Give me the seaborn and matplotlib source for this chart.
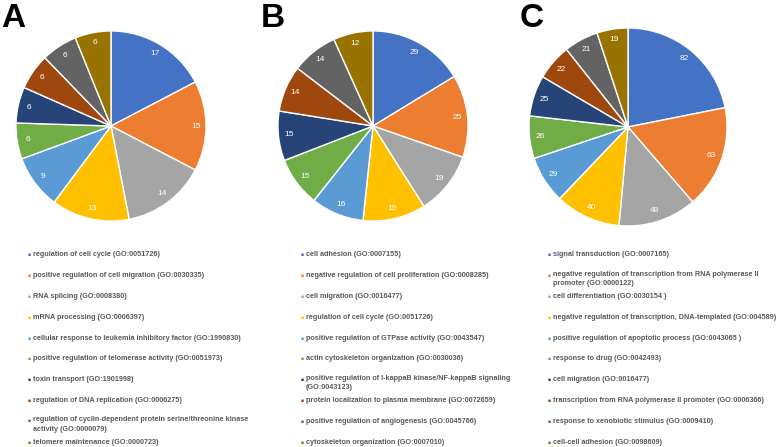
import matplotlib
matplotlib.use("Agg")
import matplotlib.pyplot as plt
import seaborn as sns

sns.set_theme(style="white")
plt.rcParams['font.family'] = ['Liberation Sans', 'DejaVu Sans']

# Office-style colours, one per GO term rank
office_colors = ["#4472C4", "#ED7D31", "#A5A5A5", "#FFC000", "#5B9BD5",
                 "#70AD47", "#264478", "#9E480E", "#636363", "#997300"]
palette = sns.color_palette(office_colors)

counts_a = [17, 15, 14, 13, 9, 6, 6, 6, 6, 6]
terms_a = [
    "regulation of cell cycle (GO:0051726)",
    "positive regulation of cell migration (GO:0030335)",
    "RNA splicing (GO:0008380)",
    "mRNA processing (GO:0006397)",
    "cellular response to leukemia inhibitory factor (GO:1990830)",
    "positive regulation of telomerase activity (GO:0051973)",
    "toxin transport (GO:1901998)",
    "regulation of DNA replication (GO:0006275)",
    "regulation of cyclin-dependent protein serine/threonine kinase\nactivity (GO:0000079)",
    "telomere maintenance (GO:0000723)",
]

counts_b = [29, 25, 19, 19, 16, 15, 15, 14, 14, 12]
terms_b = [
    "cell adhesion (GO:0007155)",
    "negative regulation of cell proliferation (GO:0008285)",
    "cell migration (GO:0016477)",
    "regulation of cell cycle (GO:0051726)",
    "positive regulation of GTPase activity (GO:0043547)",
    "actin cytoskeleton organization (GO:0030036)",
    "positive regulation of I-kappaB kinase/NF-kappaB signaling\n(GO:0043123)",
    "protein localization to plasma membrane (GO:0072659)",
    "positive regulation of angiogenesis (GO:0045766)",
    "cytoskeleton organization (GO:0007010)",
]

counts_c = [82, 63, 48, 40, 29, 26, 25, 22, 21, 19]
terms_c = [
    "signal transduction (GO:0007165)",
    "negative regulation of transcription from RNA polymerase II\npromoter (GO:0000122)",
    "cell differentiation (GO:0030154 )",
    "negative regulation of transcription, DNA-templated (GO:004589)",
    "positive regulation of apoptotic process (GO:0043065 )",
    "response to drug (GO:0042493)",
    "cell migration (GO:0016477)",
    "transcription from RNA polymerase II promoter (GO:0006366)",
    "response to xenobiotic stimulus (GO:0009410)",
    "cell-cell adhesion (GO:0098609)",
]

W, H = 777, 447
fig = plt.figure(figsize=(W / 100, H / 100), dpi=100)

# (letter, counts, terms, pie centre x, centre y, radius, legend text x, letter x)
panels = [
    ("A", counts_a, terms_a, 111, 126, 96, 33, 1),
    ("B", counts_b, terms_b, 373, 126, 96, 306, 261),
    ("C", counts_c, terms_c, 628, 127, 100, 553, 520),
]

legend_font = dict(fontsize=5.2, color="#595959", fontweight="bold", ha="left")

for letter, counts, terms, cx, cy, r, tx, lx in panels:
    ax = fig.add_axes([(cx - r) / W, (H - cy - r) / H, 2 * r / W, 2 * r / H])
    wedges, _, autotexts = ax.pie(
        counts, colors=palette, startangle=90, counterclock=False,
        autopct="", pctdistance=0.89,
        wedgeprops=dict(edgecolor="white", linewidth=1.0))
    for t, v in zip(autotexts, counts):
        t.set_text(str(v))
        t.set_color("white")
        t.set_fontsize(6)
    ax.set_xlim(-1.01, 1.01)
    ax.set_ylim(-1.01, 1.01)
    ax.axis("off")

    fig.text(lx / W, 1 - 3 / H, letter, fontsize=24, fontweight="bold",
             va="top", ha="left", color="black")

    # legend rows below the pie
    y0, step = 255, 20.8
    for i, (term, col) in enumerate(zip(terms, palette)):
        y = y0 + i * step
        if "\n" in term:
            y -= 1.5
            fig.text(tx / W, 1 - (y - 3.5) / H, term, va="top",
                     linespacing=1.5, **legend_font)
            my = y + 1
        else:
            fig.text(tx / W, 1 - y / H, term, va="center", **legend_font)
            my = y
        fig.text((tx - 5) / W, 1 - my / H, "\u25A0", fontsize=3.6,
                 color=col, va="center", ha="left")

fig.savefig("out.png", dpi=100)
